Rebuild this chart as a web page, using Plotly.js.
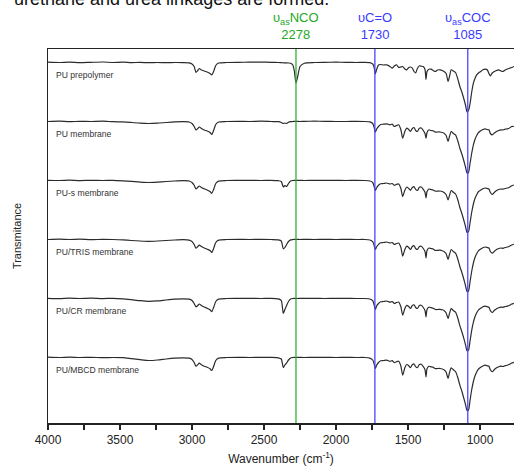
<!DOCTYPE html>
<html>
<head>
<meta charset="utf-8">
<script src="https://cdn.plot.ly/plotly-3.0.1.min.js"></script>
<style>html,body{margin:0;padding:0;background:#fff;}#chart{width:514px;height:470px;}</style>
</head>
<body>
<div id="chart"></div>
<script>
// Wavenumber grid (cm-1), shared by all spectra
const wavenumber = [
  4000,3920,3850,3780,3700,3620,3550,3480,3420,3360,
  3300,3240,3180,3120,3060,3020,3000,2985,2972,2960,
  2949,2935,2915,2895,2875,2863,2850,2835,2815,2760,
  2680,2600,2520,2450,2400,2380,2366,2355,2343,2330,
  2315,2300,2290,2278,2266,2250,2220,2150,2080,2000,
  1930,1860,1800,1765,1745,1735,1727,1718,1705,1690,
  1670,1648,1625,1610,1595,1580,1565,1550,1537,1522,
  1509,1495,1483,1470,1458,1447,1435,1421,1408,1394,
  1382,1375,1368,1355,1340,1325,1310,1295,1278,1262,
  1250,1235,1222,1212,1200,1185,1170,1155,1140,1125,
  1111,1100,1090,1080,1069,1058,1046,1035,1023,1010,
  995,980,965,950,938,928,915,900,885,870,
  855,840,825,810,795,780,765
];

// Transmittance (a.u., baseline ~100)
const puPrepolymer = [
  100.3,100,100.4,99.8,100.2,100.5,100,100.3,99.9,100.1,
  99.8,100,99.8,100,99.9,99.6,98.5,96,90,92,
  94,92.5,91.5,90.5,89,87.5,91,97,99.5,100,
  100.2,100.3,100.4,100.2,100,99.8,99.7,99.6,99.6,99.5,
  99.3,97.5,92,79.5,86,96,99.3,100,100.2,100.3,
  100.2,100,100.1,99.8,98.5,95,88.7,93,97.5,98,
  97.5,97.7,96,94.3,96.5,97.7,95,95.5,96,93.5,
  92.7,95,95.5,94.3,91,89.5,94,96.7,96.3,96,
  93,83,91,93.3,93.3,92,91,92.5,92.7,92,
  91,89,81,86,92.7,91.5,90,84,76,70,
  63,57,50.5,52,59,70,79.3,84,87.7,89.5,
  91,92.7,93.3,92.7,89,86.7,89.5,91,92,92.7,
  91.5,91,92.5,93.5,94.3,95,96
];
const puMembrane = [
  100,100.3,99.8,100.2,100,100.3,99.8,99.6,99,98.3,
  98,98.3,99,99.6,99.8,99.5,98,95,91.5,93,
  94.5,93,91.5,90.5,89,87,91,97,99.5,100,
  100.2,100,100.3,100,99.8,99,98,98.5,98,99.3,
  99.8,100,100.2,100.2,100.1,100,100.2,100.3,100.2,100,
  100,100.1,100,99.6,98,94,89.3,92.5,95,97,
  97.3,97.7,96.7,97.3,95,96,96.7,92,83.3,90,
  93.3,92,90,93,94,91,90,93.3,93.5,91,
  88,83.3,89,91.7,91,90.7,89.3,89.5,89.5,89,
  88.3,86,80,85,90,88,86.7,81,73.3,67,
  60,54,48.5,49,58.3,68,76.7,82,86,89,
  90.7,92,92.7,92,91.7,88,86.7,88.5,90,91,
  91.7,91.5,92.3,92.7,93.5,95,95
];
const puSMembrane = [
  100.2,100,100.3,99.9,100.2,100,100.2,99.7,99.1,98.4,
  98,98.4,99,99.5,99.8,99.5,98,95.2,91.5,93.2,
  94.5,93,91.7,90.5,89,87.2,91,97,99.4,100,
  100.1,100.2,100,100.2,99.8,99,93.5,95,94,97,
  99.5,100,100.1,100.2,100.1,100.2,100,100.2,100.1,100.2,
  100,100.2,100,99.5,98,94,90,92.7,95.3,96.8,
  97,97.5,96.5,97,95.2,96.2,96.5,92.3,84,90.3,
  93.5,92,90.2,93,93.8,91.2,90,93.2,93.5,91.2,
  88.2,82.5,89,91.5,91,90.5,89.3,89.3,89.5,89,
  88,85.7,80.5,85,90,88.2,86.5,81,73,66.5,
  59.5,53.5,48,48.8,58,68,76.5,82,85.8,89,
  90.5,91.8,92.5,92,91.5,88,86,88.3,90,91,
  91.5,91.3,92,92.5,93.3,94.7,95.5
];
const puTrisMembrane = [
  100,100.3,100,100.3,99.8,100.2,100,99.6,99,98.5,
  98.2,98.5,99,99.5,99.8,99.4,98,95,91.3,93,
  94.3,93,91.5,90.3,89,87,91,97,99.4,100,
  100.2,100,100.2,100,99.7,98.5,90.5,92,95,98,
  99.6,100,100.2,100.1,100.2,100,100.2,100,100.2,100,
  100.1,100,100,99.5,97.8,94,90,92.7,95.2,96.8,
  97,97.5,96.5,97,95,96,96.5,92.2,83.3,90,
  93.3,92,90,93,93.8,91,90,93,93.3,91,
  88,81.7,89,91.5,91,90.5,89,89.2,89.3,88.8,
  88,85.7,80,85,90,88,86.3,80.8,73,66.5,
  59.5,53.5,48,48.5,58,68,76.5,82,85.8,88.8,
  90.5,91.8,92.5,92,91.5,88,86.3,88.3,90,91,
  91.5,91.2,92,92.5,93.3,94.5,95.3
];
const puCrMembrane = [
  100.2,99.8,100.3,100,100.3,99.9,100.2,99.7,98.8,97.8,
  97.2,97.6,98.5,99.3,99.7,99.4,98,95,91.7,93,
  94.5,93,91.5,90.3,88.8,86.8,91,97,99.4,100,
  100.1,100.2,100,100.2,99.6,98,85,89,93,97,
  99.4,100,100.1,100.2,100,100.2,100.1,100.2,100,100.1,
  100.2,100,100,99.5,97.8,93.5,89,92.5,95,96.8,
  97,97.5,96.3,97,95,96,96.5,92,83.3,90,
  93.2,92,90,93,93.7,91,90,93,93.3,91,
  88,81.7,89,91.3,90.8,90.3,89,89,89.2,88.7,
  88,85.5,80,85,89.8,88,86.3,80.7,72.8,66.3,
  59.3,53.3,47.8,48.3,57.8,67.8,76.3,81.8,85.7,88.7,
  90.3,91.7,92.3,91.8,91.3,87.8,86,88.2,89.8,90.8,
  91.4,91.2,92,92.4,93.2,94.5,95.2
];
const puMbcdMembrane = [
  100.3,100,100.4,100,100.2,99.8,100,99.8,98.8,97.8,
  97,97.5,98.5,99.3,99.7,99.3,98,95,91,92.8,
  94.3,92.8,91.3,90.2,88.8,87,91,97,99.4,100,
  100.2,100,100.2,100.1,99.7,98.5,90,92.5,94.5,97.5,
  99.5,100,100.2,100,100.2,100.1,100,100.2,100.1,100,
  100.1,100,100,99.4,97.5,93.5,89,92.3,95,96.7,
  97,97.4,96.2,96.8,94.8,95.8,96.3,91.8,82.3,89.8,
  93,91.8,89.8,92.8,93.5,90.8,89.8,93,93.2,90.8,
  87.8,80.7,88.8,91.2,90.7,90.2,88.8,89,89,88.5,
  87.7,85.2,79,84.8,89.7,87.8,86,80.3,72.3,65.8,
  58.5,52.5,47,47.5,57.3,67.5,76,81.5,85.5,88.5,
  90.2,91.5,92.3,91.7,91.2,87.5,85.8,88,89.7,90.8,
  91.3,91,91.8,92.3,93.2,94.5,95.2
];

const seriesNames = ['PU prepolymer','PU membrane','PU-s membrane','PU/TRIS membrane','PU/CR membrane','PU/MBCD membrane'];
const seriesValues = [puPrepolymer, puMembrane, puSMembrane, puTrisMembrane, puCrMembrane, puMbcdMembrane];

// Marked bands
const bandWavenumbers = [2278, 1730, 1085];
const bandLabels = ['\u03c5<sub>as</sub>NCO<br>2278', '\u03c5C=O<br>1730', '\u03c5<sub>as</sub>COC<br>1085'];
const bandColors = ['#2fb52f', '#4848ff', '#4848ff'];
const bandTextColors = ['#23a823', '#3a3aff', '#3a3aff'];

const xTicks = [4000,3750,3500,3250,3000,2750,2500,2250,2000,1750,1500,1250,1000];
const xTickText = xTicks.map(v => (v % 500 === 0 ? String(v) : ''));

const FONT = 'Arial, "Liberation Sans", sans-serif';
const SPACING = 59;      // vertical stacking offset between spectra
const BOTTOM = 65.5;     // baseline of lowest spectrum
const n = seriesValues.length;

const traces = seriesValues.map((vals, i) => {
  const off = BOTTOM + (n - 1 - i) * SPACING - 100;
  return {
    x: wavenumber,
    y: vals.map(v => v + off),
    type: 'scatter',
    mode: 'lines',
    name: seriesNames[i],
    line: {color: '#2b2b2b', width: 1.2, shape: 'spline', smoothing: 0.6},
    hoverinfo: 'skip'
  };
});

const annotations = [];
seriesNames.forEach((nm, i) => {
  annotations.push({
    x: 3958, y: BOTTOM + (n - 1 - i) * SPACING - 12,
    xref: 'x', yref: 'y', xanchor: 'left', yanchor: 'middle',
    text: nm, showarrow: false,
    font: {family: FONT, size: 8.6, color: '#333'}
  });
});
bandWavenumbers.forEach((w, i) => {
  annotations.push({
    x: w, y: 1, xref: 'x', yref: 'paper', xanchor: 'center', yanchor: 'bottom',
    yshift: 5, text: bandLabels[i], showarrow: false, align: 'center',
    font: {family: FONT, size: 13, color: bandTextColors[i]}
  });
});
annotations.push({
  x: -0.0773, y: 1.1016, xref: 'paper', yref: 'paper', xanchor: 'left', yanchor: 'bottom',
  text: 'urethane and urea linkages are formed.', showarrow: false,
  font: {family: FONT, size: 18, color: '#111'}
});

const shapes = bandWavenumbers.map((w, i) => ({
  type: 'line', xref: 'x', yref: 'paper', x0: w, x1: w, y0: 0, y1: 1,
  line: {color: bandColors[i], width: 1.3}
}));

const layout = {
  width: 514, height: 470,
  margin: {l: 48, r: 0, t: 49, b: 47},
  paper_bgcolor: '#fff', plot_bgcolor: '#fff',
  showlegend: false,
  font: {family: FONT, color: '#222'},
  xaxis: {
    range: [4000, 764], autorange: false,
    tickvals: xTicks, ticktext: xTickText,
    ticks: 'outside', ticklen: 5, tickwidth: 1.2, tickcolor: '#222',
    showline: true, linecolor: '#222', linewidth: 1.5, mirror: true,
    showgrid: false, zeroline: false,
    tickfont: {family: FONT, size: 12, color: '#222'},
    title: {text: 'Wavenumber (cm<sup>-1</sup>)', font: {family: FONT, size: 12, color: '#222'}, standoff: 8}
  },
  yaxis: {
    range: [0, 374], autorange: false,
    showticklabels: false, ticks: '',
    showline: true, linecolor: '#222', linewidth: 1.5,
    showgrid: false, zeroline: false,
    title: {text: 'Transmitance', font: {family: FONT, size: 11, color: '#222'}, standoff: 22}
  },
  annotations: annotations,
  shapes: shapes
};

Plotly.newPlot('chart', traces, layout, {staticPlot: true, displayModeBar: false});
</script>
</body>
</html>
